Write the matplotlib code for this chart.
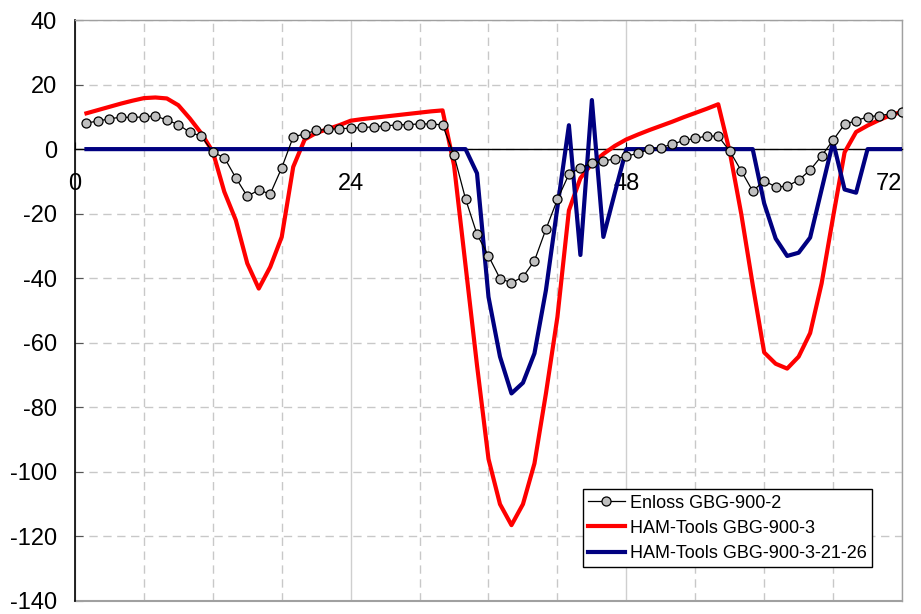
import matplotlib
matplotlib.use('Agg')
import matplotlib.pyplot as plt
from matplotlib.ticker import MultipleLocator
import numpy as np

plt.rcParams['font.family'] = ['Liberation Sans', 'DejaVu Sans']
plt.rcParams['axes.unicode_minus'] = False

hours = list(range(1, 73))

enloss = [8.1, 8.7, 9.4, 9.9, 9.8, 10.0, 10.3, 9.0, 7.6, 5.2, 4.0, -1.0,
          -2.6, -8.9, -14.6, -12.7, -13.9, -5.8, 3.8, 4.7, 5.8, 6.1, 6.3, 6.5,
          6.7, 6.9, 7.2, 7.5, 7.6, 7.8, 7.8, 7.5, -1.9, -15.4, -26.4, -33.1,
          -40.1, -41.4, -39.6, -34.6, -24.8, -15.6, -7.8, -5.8, -4.4, -3.7, -3.0, -2.2,
          -1.3, -0.1, 0.5, 1.5, 2.7, 3.3, 4.1, 4.0, -0.6, -6.7, -13.0, -9.8,
          -11.7, -11.5, -9.6, -6.5, -2.1, 2.8, 7.7, 8.8, 10.0, 10.4, 10.9, 11.4]

ham = [11.1, 12.1, 13.1, 14.1, 15.0, 15.8, 16.0, 15.7, 13.6, 9.5, 4.9, -0.8,
       -13.2, -22.0, -35.4, -43.2, -36.5, -27.2, -5.5, 3.0, 5.0, 6.2, 7.4, 8.8,
       9.3, 9.7, 10.1, 10.5, 10.9, 11.3, 11.7, 12.0, -5.0, -36.0, -67.0, -96.0,
       -110.0, -116.5, -110.0, -97.4, -75.7, -52.0, -19.0, -9.0, -4.5, -1.5, 1.0, 3.0,
       4.5, 5.9, 7.2, 8.5, 9.9, 11.2, 12.5, 13.9, -0.8, -20.0, -42.0, -63.0,
       -66.5, -68.0, -64.3, -57.0, -41.6, -21.0, -1.0, 5.3, 7.3, 9.0, 10.5, 11.6]

ham_21_26 = [0]*34 + [-7.5, -45.8, -64.3, -75.7, -72.4, -63.3, -43.7, -18.0,
                      7.4, -32.8, 15.2, -27.2, -13.5, 0.0] \
            + [0]*11 + [-16.8, -27.7, -33.1, -32.1, -27.4, -12.5, 2.3, -12.5, -13.5] \
            + [0]*4

labels = ['Enloss GBG-900-2', 'HAM-Tools GBG-900-3', 'HAM-Tools GBG-900-3-21-26']

fig = plt.figure(figsize=(9.21, 6.14), dpi=100)
ax = fig.add_axes([0.0814, 0.0212, 0.898, 0.9462])

ax.plot(hours, ham, color='#ff0000', lw=3, zorder=3, label=labels[1])
ax.plot(hours, ham_21_26, color='#000080', lw=3, zorder=4, label=labels[2])
ax.plot(hours, enloss, color='black', lw=0.9, marker='o', ms=6.5,
        mfc='#c0c0c0', mec='black', mew=0.9, zorder=5, label=labels[0])

ax.set_xlim(0, 72)
ax.set_ylim(-140, 40)
ax.xaxis.set_major_locator(MultipleLocator(24))
ax.xaxis.set_minor_locator(MultipleLocator(6))
ax.yaxis.set_major_locator(MultipleLocator(20))

# gridlines: dashed every 6 h, solid at 24 h steps, dashed every 20
ax.grid(which='minor', axis='x', color='#c8c8c8', lw=1, dashes=(6, 4))
ax.grid(which='major', axis='x', color='#cfcfcf', lw=1)
ax.grid(which='major', axis='y', color='#c8c8c8', lw=1, dashes=(6, 4))
ax.set_axisbelow(True)

ax.spines['bottom'].set_position(('data', 0))
ax.spines['bottom'].set_linewidth(1)
ax.spines['left'].set_linewidth(1.2)
for s in ['top', 'right']:
    ax.spines[s].set_color('#a0a0a0')
    ax.spines[s].set_linewidth(1)
ax.axhline(-140, color='#a0a0a0', lw=1.5, zorder=1, clip_on=False)

ax.tick_params(axis='x', which='major', direction='in', length=5, pad=17, labelsize=17)
ax.tick_params(axis='x', which='minor', length=0)
ax.tick_params(axis='y', direction='in', length=6, pad=13, labelsize=17, color='#555555')
for t in ax.get_xticklabels():
    if t.get_text() == '72':
        t.set_horizontalalignment('right')

h, l = ax.get_legend_handles_labels()
order = [2, 0, 1]
leg = ax.legend([h[i] for i in order], [l[i] for i in order], loc='lower right',
                bbox_to_anchor=(0.964, 0.058), borderaxespad=0, fontsize=13,
                frameon=True, fancybox=False, edgecolor='black', framealpha=1,
                handlelength=2.0, handletextpad=0.3, labelspacing=0.45, borderpad=0.3)
leg.get_frame().set_linewidth(1)

plt.savefig('out.png', dpi=100)
